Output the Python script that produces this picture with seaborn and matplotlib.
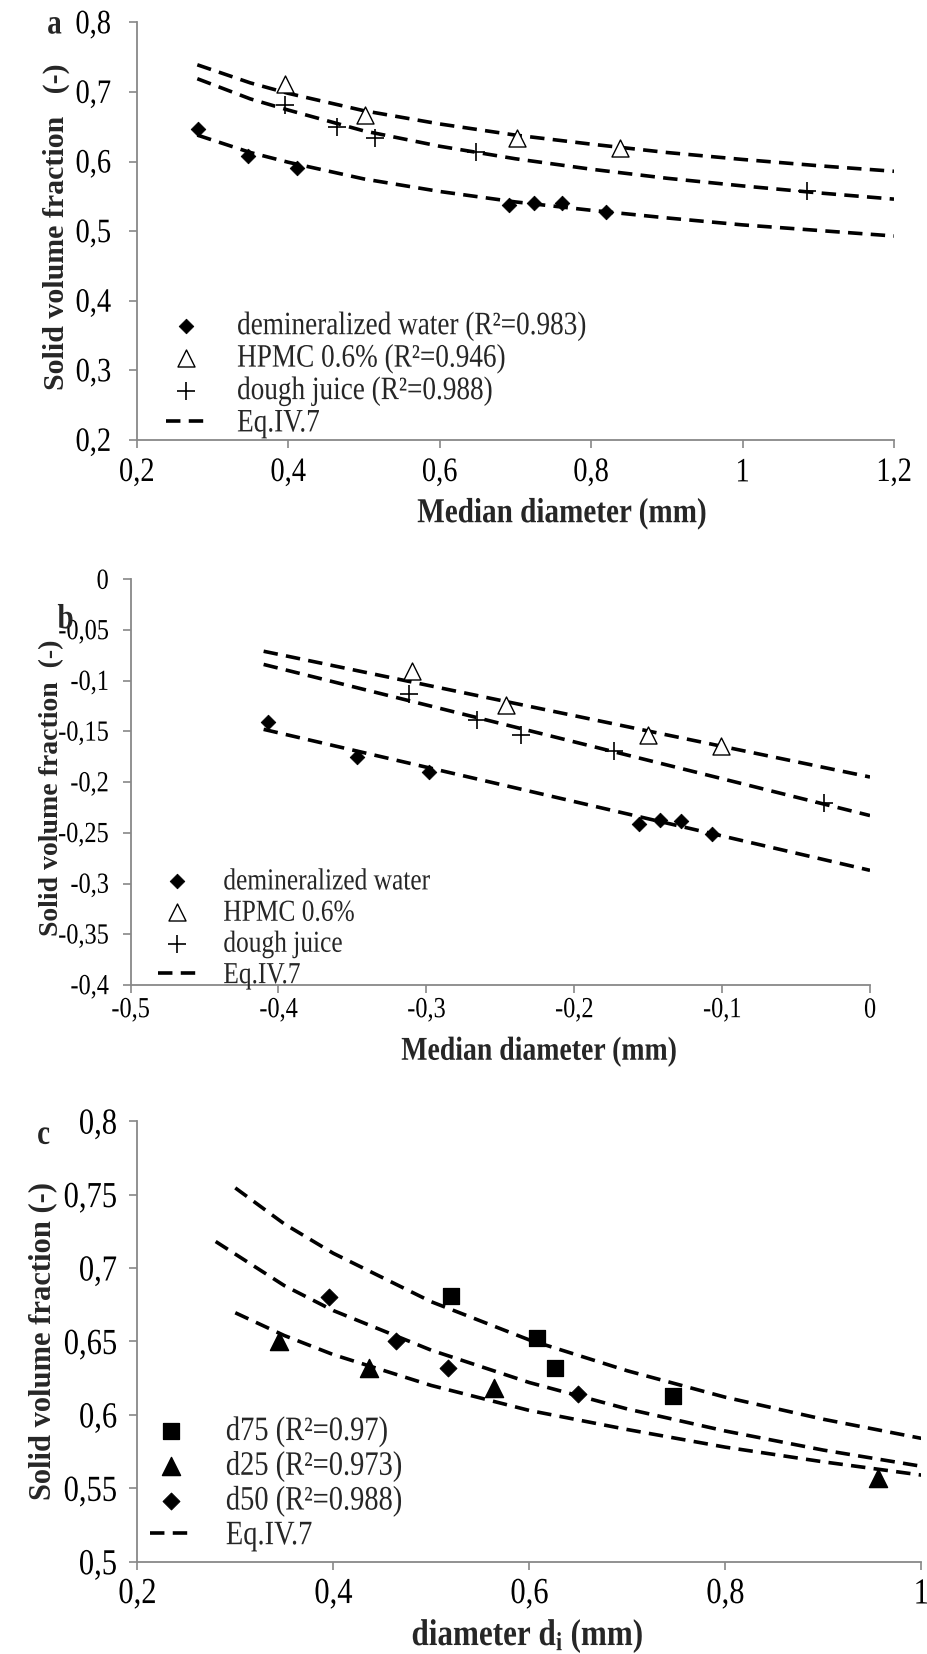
import matplotlib
matplotlib.use('Agg')
import matplotlib.pyplot as plt
from matplotlib.patheffects import AbstractPathEffect
from matplotlib.transforms import Affine2D
from matplotlib.text import Text
import seaborn as sns

# ---------------- data ----------------
# panel a : solid volume fraction vs median diameter
a_water_x = [0.281, 0.347, 0.412, 0.691, 0.724, 0.762, 0.820]
a_water_y = [0.647, 0.608, 0.591, 0.537, 0.541, 0.541, 0.528]
a_hpmc_x = [0.396, 0.501, 0.702, 0.838]
a_hpmc_y = [0.711, 0.667, 0.634, 0.620]
a_juice_x = [0.396, 0.464, 0.514, 0.648, 1.085]
a_juice_y = [0.681, 0.650, 0.634, 0.614, 0.558]

a_fit_x = [0.28, 0.35, 0.4, 0.5, 0.6, 0.7, 0.8, 0.9, 1.0, 1.1, 1.2]
a_fit_hpmc = [0.739, 0.713, 0.698, 0.673, 0.654, 0.638, 0.625, 0.613, 0.603, 0.594, 0.586]
a_fit_juice = [0.719, 0.690, 0.674, 0.644, 0.622, 0.604, 0.589, 0.576, 0.565, 0.555, 0.546]
a_fit_water = [0.638, 0.613, 0.599, 0.575, 0.557, 0.542, 0.530, 0.519, 0.509, 0.501, 0.493]

# panel b : log-log version
b_water_x = [-0.407, -0.347, -0.298, -0.156, -0.142, -0.128, -0.107]
b_water_y = [-0.141, -0.175, -0.190, -0.241, -0.237, -0.238, -0.251]
b_hpmc_x = [-0.310, -0.246, -0.150, -0.101]
b_hpmc_y = [-0.090, -0.124, -0.154, -0.164]
b_juice_x = [-0.312, -0.266, -0.236, -0.173, -0.031]
b_juice_y = [-0.113, -0.139, -0.154, -0.169, -0.221]

b_fit_x = [-0.41, 0.0]
b_fit_hpmc = [-0.071, -0.195]
b_fit_juice = [-0.084, -0.233]
b_fit_water = [-0.148, -0.287]

# panel c : d25 / d50 / d75
c_d75_x = [0.520, 0.608, 0.626, 0.747]
c_d75_y = [0.681, 0.652, 0.632, 0.613]
c_d25_x = [0.345, 0.436, 0.564, 0.956]
c_d25_y = [0.650, 0.632, 0.618, 0.557]
c_d50_x = [0.396, 0.464, 0.517, 0.650]
c_d50_y = [0.680, 0.650, 0.632, 0.614]

c_fit_x = [0.3, 0.35, 0.4, 0.5, 0.6, 0.7, 0.8, 0.9, 1.0]
c_fit_d75 = [0.7545, 0.730, 0.710, 0.677, 0.651, 0.630, 0.612, 0.597, 0.584]
c_fit_d25 = [0.6695, 0.654, 0.641, 0.620, 0.603, 0.590, 0.578, 0.568, 0.559]
c_fit_d50_x = [0.28, 0.35, 0.4, 0.5, 0.6, 0.7, 0.8, 0.9, 1.0]
c_fit_d50 = [0.718, 0.688, 0.671, 0.644, 0.622, 0.604, 0.589, 0.576, 0.565]

# ticks
a_xticks = [0.2, 0.4, 0.6, 0.8, 1.0, 1.2]
a_xticklabels = ['0,2', '0,4', '0,6', '0,8', '1', '1,2']
a_yticks = [0.2, 0.3, 0.4, 0.5, 0.6, 0.7, 0.8]
a_yticklabels = ['0,2', '0,3', '0,4', '0,5', '0,6', '0,7', '0,8']

b_xticks = [-0.5, -0.4, -0.3, -0.2, -0.1, 0.0]
b_xticklabels = ['-0,5', '-0,4', '-0,3', '-0,2', '-0,1', '0']
b_yticks = [-0.4, -0.35, -0.3, -0.25, -0.2, -0.15, -0.1, -0.05, 0.0]
b_yticklabels = ['-0,4', '-0,35', '-0,3', '-0,25', '-0,2', '-0,15', '-0,1', '-0,05', '0']

c_xticks = [0.2, 0.4, 0.6, 0.8, 1.0]
c_xticklabels = ['0,2', '0,4', '0,6', '0,8', '1']
c_yticks = [0.5, 0.55, 0.6, 0.65, 0.7, 0.75, 0.8]
c_yticklabels = ['0,5', '0,55', '0,6', '0,65', '0,7', '0,75', '0,8']

a_labels = ['demineralized water (R²=0.983)', 'HPMC 0.6% (R²=0.946)',
            'dough juice (R²=0.988)', 'Eq.IV.7']
b_labels = ['demineralized water', 'HPMC 0.6%', 'dough juice', 'Eq.IV.7']
c_labels = ['d75 (R²=0.97)', 'd25 (R²=0.973)', 'd50 (R²=0.988)', 'Eq.IV.7']

# ---------------- style ----------------
sns.set_style('ticks')
plt.rcParams['font.family'] = ['Liberation Serif', 'DejaVu Serif']
plt.rcParams['mathtext.fontset'] = 'custom'
plt.rcParams['mathtext.rm'] = 'Liberation Serif'
plt.rcParams['mathtext.bf'] = 'Liberation Serif:bold'
plt.rcParams['mathtext.it'] = 'Liberation Serif:italic'

GREY = '#888888'
DASH = (0, (4, 2.3))
LW = 2.6


class VStretch(AbstractPathEffect):
    """stretch text vertically around its centre (source image is tall-scaled)"""
    def __init__(self, sy=1.2):
        super().__init__()
        self.sy = sy

    def draw_path(self, renderer, gc, tpath, affine, rgbFace=None):
        ext = tpath.get_extents(affine)
        cy = (ext.y0 + ext.y1) / 2
        aff = affine + Affine2D().translate(0, -cy).scale(1, self.sy).translate(0, cy)
        renderer.draw_path(gc, tpath, aff, rgbFace)


def style_axis(ax, xlim, ylim, xt, xtl, yt, ytl, tsize, xpad, ypad):
    ax.set_xlim(*xlim)
    ax.set_ylim(*ylim)
    ax.set_xticks(xt)
    ax.set_xticklabels(xtl)
    ax.set_yticks(yt)
    ax.set_yticklabels(ytl)
    for s in ['top', 'right']:
        ax.spines[s].set_visible(False)
    for s in ['left', 'bottom']:
        ax.spines[s].set_color(GREY)
        ax.spines[s].set_linewidth(1.3)
    ax.tick_params(axis='both', direction='out', length=5.8, width=1.2,
                   color=GREY, labelsize=tsize, labelcolor='black')
    ax.tick_params(axis='x', pad=xpad)
    ax.tick_params(axis='y', pad=ypad)


def set_labels(ax, xlabel, ylabel, xsize, ysize, xpos, ypos):
    ax.set_xlabel(xlabel, fontsize=xsize, fontweight='bold')
    ax.set_ylabel(ylabel, fontsize=ysize, fontweight='bold')
    ax.xaxis.label.set_verticalalignment('center')
    ax.yaxis.label.set_verticalalignment('center')
    ax.xaxis.set_label_coords(*xpos)
    ax.yaxis.set_label_coords(*ypos)


def add_legend(ax, order, anchor, size, hlen, hpad, lspace):
    h, l = ax.get_legend_handles_labels()
    d = dict(zip(l, h))
    ax.legend([d[k] for k in order], order, loc='lower left', bbox_to_anchor=anchor,
              frameon=False, fontsize=size, handlelength=hlen, handletextpad=hpad,
              labelspacing=lspace, borderpad=0, borderaxespad=0, scatterpoints=1)


fig = plt.figure(figsize=(9.27, 16.54), dpi=100)
ax_a = fig.add_axes([0.1475, 0.7340, 0.8169, 0.2525])
ax_b = fig.add_axes([0.1408, 0.4045, 0.7977, 0.2453])
ax_c = fig.add_axes([0.1481, 0.0558, 0.8457, 0.2664])

# ---------------- panel a ----------------
ax = ax_a
for ys, lab in zip([a_fit_hpmc, a_fit_juice, a_fit_water], ['Eq.IV.7', '_', '_']):
    sns.lineplot(x=a_fit_x, y=ys, color='black', lw=LW, linestyle=DASH, label=lab, ax=ax)
sns.scatterplot(x=a_water_x, y=a_water_y, marker='D', s=55, color='black',
                edgecolor='black', label=a_labels[0], ax=ax, zorder=3)
sns.scatterplot(x=a_hpmc_x, y=a_hpmc_y, marker='^', s=150, color='white',
                edgecolor='black', linewidth=1.0, label=a_labels[1], ax=ax, zorder=3)
sns.scatterplot(x=a_juice_x, y=a_juice_y, marker='+', s=160, color='black',
                linewidth=1.2, label=a_labels[2], ax=ax, zorder=3)
style_axis(ax, (0.2, 1.2), (0.2, 0.8), a_xticks, a_xticklabels, a_yticks, a_yticklabels,
           20.5, 9, 12.7)
set_labels(ax, 'Median diameter (mm)', 'Solid volume fraction   (-)', 21, 21.5,
           (0.561, -0.176), (-0.106, 0.51))
add_legend(ax, a_labels, (0.0387, 0.009), 19.6, 1.47, 1.14, 0.27)

# ---------------- panel b ----------------
ax = ax_b
for ys, lab in zip([b_fit_hpmc, b_fit_juice, b_fit_water], ['Eq.IV.7', '_', '_']):
    sns.lineplot(x=b_fit_x, y=ys, color='black', lw=LW, linestyle=DASH, label=lab, ax=ax)
sns.scatterplot(x=b_water_x, y=b_water_y, marker='D', s=55, color='black',
                edgecolor='black', label=b_labels[0], ax=ax, zorder=3)
sns.scatterplot(x=b_hpmc_x, y=b_hpmc_y, marker='^', s=150, color='white',
                edgecolor='black', linewidth=1.0, label=b_labels[1], ax=ax, zorder=3)
sns.scatterplot(x=b_juice_x, y=b_juice_y, marker='+', s=160, color='black',
                linewidth=1.2, label=b_labels[2], ax=ax, zorder=3)
style_axis(ax, (-0.5, 0.0), (-0.4, 0.0), b_xticks, b_xticklabels, b_yticks, b_yticklabels,
           17.5, 5, 10)
set_labels(ax, 'Median diameter (mm)', 'Solid volume fraction  (-)', 20, 20,
           (0.553, -0.165), (-0.107, 0.485))
add_legend(ax, b_labels, (0.0365, -0.005), 18.3, 1.57, 1.02, 0.34)

# ---------------- panel c ----------------
ax = ax_c
sns.lineplot(x=c_fit_x, y=c_fit_d75, color='black', lw=LW, linestyle=DASH, label='Eq.IV.7', ax=ax)
sns.lineplot(x=c_fit_d50_x, y=c_fit_d50, color='black', lw=LW, linestyle=DASH, label='_', ax=ax)
sns.lineplot(x=c_fit_x, y=c_fit_d25, color='black', lw=LW, linestyle=DASH, label='_', ax=ax)
sns.scatterplot(x=c_d75_x, y=c_d75_y, marker='s', s=130, color='black',
                edgecolor='black', label=c_labels[0], ax=ax, zorder=3)
sns.scatterplot(x=c_d25_x, y=c_d25_y, marker='^', s=169, color='black',
                edgecolor='black', label=c_labels[1], ax=ax, zorder=3)
sns.scatterplot(x=c_d50_x, y=c_d50_y, marker='D', s=74, color='black',
                edgecolor='black', label=c_labels[2], ax=ax, zorder=3)
style_axis(ax, (0.2, 1.0), (0.5, 0.8), c_xticks, c_xticklabels, c_yticks, c_yticklabels,
           22, 7, 9)
set_labels(ax, r'diameter d$_\mathbf{i}$ (mm)', 'Solid volume fraction (-)', 22.4, 22,
           (0.498, -0.168), (-0.12, 0.5))
add_legend(ax, c_labels, (0.016, 0.029), 20.5, 1.47, 1.2, 0.31)

# panel letters
fig.text(0.0588, 0.9851, 'a', fontsize=21, fontweight='bold', ha='center', va='center')
fig.text(0.0708, 0.6259, 'b', fontsize=21, fontweight='bold', ha='center', va='center')
fig.text(0.047, 0.3138, 'c', fontsize=21, fontweight='bold', ha='center', va='center')

# horizontal texts only: the source is stretched vertically
fig.canvas.draw()
for t in fig.findobj(Text):
    if t.get_rotation() == 0:
        t.set_path_effects([VStretch(1.2)])

fig.savefig('out.png', dpi=100)
